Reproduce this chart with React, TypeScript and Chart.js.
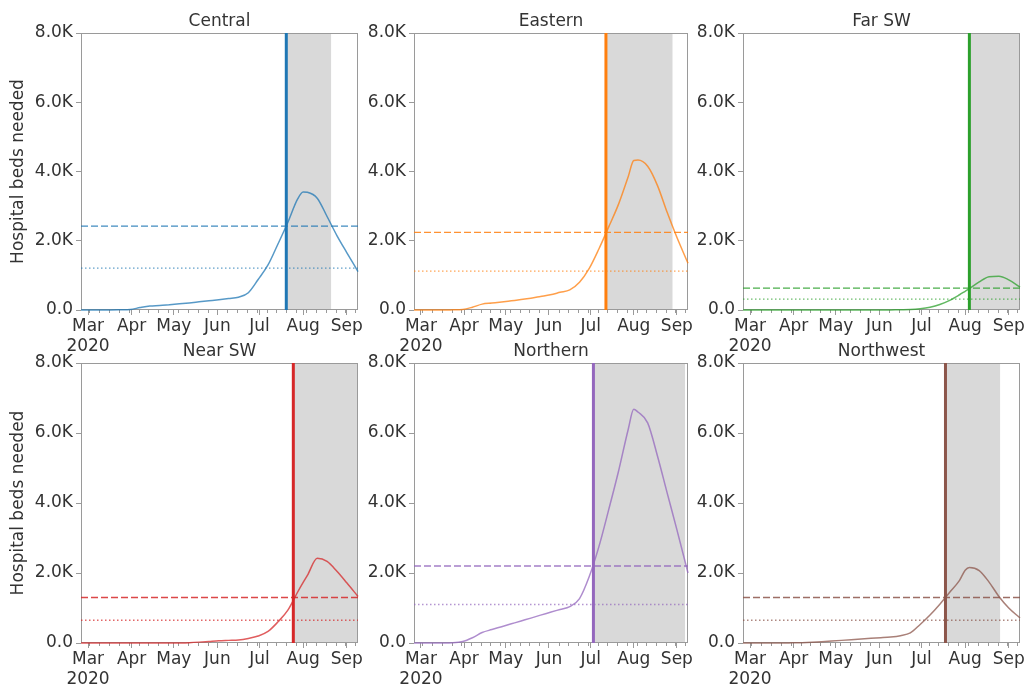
import React, { useEffect, useRef } from 'react';
import { Chart, registerables } from 'chart.js';

Chart.register(...registerables);

// ---------------- data ----------------
const regions = ['Central', 'Eastern', 'Far SW', 'Near SW', 'Northern', 'Northwest'];
const regionColors = ['#1f77b4', '#ff7f0e', '#2ca02c', '#d62728', '#9467bd', '#8c564b'];

// days counted from 1 Mar 2020
const dayOffsets = [-5, 2, 9, 16, 23, 30, 37, 44, 51, 58, 65, 72, 79, 86, 93, 100, 107, 114, 121, 128, 135, 142, 149, 153, 156, 163, 170, 177, 184, 192];

const centralBeds = [0, 0, 0, 0, 5, 15, 70, 115, 130, 155, 180, 205, 235, 265, 295, 330, 370, 500, 880, 1300, 1900, 2520, 3200, 3410, 3400, 3230, 2700, 2150, 1660, 1110];
const easternBeds = [0, 0, 0, 0, 5, 15, 80, 170, 200, 230, 265, 300, 340, 390, 440, 510, 580, 800, 1200, 1770, 2400, 3050, 3850, 4320, 4330, 4150, 3600, 2820, 2100, 1350];
const farSwBeds = [0, 0, 0, 0, 0, 0, 0, 0, 0, 0, 0, 0, 0, 0, 0, 3, 8, 12, 35, 80, 160, 280, 440, 540, 615, 810, 960, 975, 870, 660];
const nearSwBeds = [0, 0, 0, 0, 0, 0, 0, 0, 0, 0, 3, 10, 25, 45, 65, 75, 85, 130, 200, 330, 600, 930, 1450, 1730, 1930, 2420, 2330, 2050, 1720, 1330];
const northernBeds = [0, 0, 0, 0, 5, 40, 150, 300, 385, 466, 548, 630, 711, 796, 877, 959, 1041, 1270, 1900, 2760, 3810, 4900, 6100, 6680, 6600, 6290, 5350, 4290, 3240, 2000];
const northwestBeds = [0, 0, 0, 0, 0, 5, 10, 20, 35, 55, 75, 95, 115, 135, 150, 170, 210, 290, 530, 800, 1110, 1450, 1790, 2080, 2160, 2070, 1740, 1330, 1000, 715];

const bedSeries = [centralBeds, easternBeds, farSwBeds, nearSwBeds, northernBeds, northwestBeds];

const bedCapacity = [2420, 2240, 630, 1300, 2200, 1300];
const halfCapacity = [1210, 1120, 315, 650, 1100, 650];
const peakStart = [141, 133, 156, 146, 124, 139];
const peakEnd = [173, 181, 192, 192, 190, 178];

const monthTicks = [0, 31, 61, 92, 122, 153, 184];
const monthLabels = ['Mar', 'Apr', 'May', 'Jun', 'Jul', 'Aug', 'Sep'];
const yearLabel = '2020';
const yTicks = [0, 2000, 4000, 6000, 8000];
const yAxisTitle = 'Hospital beds needed';

// ---------------- layout ----------------
const colLeft = [81, 414, 743];
const colRight = [358, 688, 1020];
const rowTop = [33, 363];
const rowBottom = [310, 643];
const AXIS_W = 81;
const TOP_PAD = 33;
const X_AXIS_H = 50;
const RIGHT_PAD = 6;

const FONT = "'DejaVu Sans', 'Liberation Sans', sans-serif";
const TEXT = '#333333';
const SPINE = '#9a9a9a';
const SHADE = '#d9d9d9';

function hexA(hex: string, a: number) {
  const r = parseInt(hex.slice(1, 3), 16);
  const g = parseInt(hex.slice(3, 5), 16);
  const b = parseInt(hex.slice(5, 7), 16);
  return `rgba(${r},${g},${b},${a})`;
}

function fmtK(v: number) {
  return v === 0 ? '0.0' : (v / 1000).toFixed(1) + 'K';
}

function Panel({ index }: { index: number }) {
  const ref = useRef<HTMLCanvasElement>(null);
  const col = index % 3;
  const row = Math.floor(index / 3);
  const plotW = colRight[col] - colLeft[col];
  const plotH = rowBottom[row] - rowTop[row];
  const cw = AXIS_W + plotW + RIGHT_PAD + 10;
  const ch = TOP_PAD + plotH + X_AXIS_H;
  const cLeft = colLeft[col] - AXIS_W;
  const cTop = rowTop[row] - TOP_PAD;

  useEffect(() => {
    const canvas = ref.current;
    if (!canvas) return;
    const color = regionColors[index];
    const vals = bedSeries[index];
    const x0 = dayOffsets[0];
    const x1 = dayOffsets[dayOffsets.length - 1];
    const weeks: number[] = [];
    for (let d = 1; d <= x1; d += 7) if (!monthTicks.includes(d)) weeks.push(d);

    const SHADE_INDEX = 4;

    const decor = {
      id: 'decor',
      afterDatasetDraw(chart: any, args: any) {
        if (args.index !== SHADE_INDEX) return;
        const { ctx, chartArea, scales } = chart;
        const { left, right, top, bottom } = chartArea;
        ctx.save();
        ctx.strokeStyle = SPINE;
        ctx.lineWidth = 1;
        ctx.beginPath();
        weeks.forEach((w) => {
          const px = Math.round(scales.x.getPixelForValue(w)) + 0.5;
          ctx.moveTo(px, bottom);
          ctx.lineTo(px, bottom + 3);
        });
        ctx.stroke();
        ctx.strokeRect(Math.round(left) + 0.5, Math.round(top) + 0.5, Math.round(right - left) - 1, Math.round(bottom - top) - 1);
        ctx.restore();
      },
      afterDraw(chart: any) {
        const { ctx, chartArea } = chart;
        const { left, right, top, bottom } = chartArea;
        ctx.save();
        ctx.fillStyle = TEXT;
        ctx.font = `17px ${FONT}`;
        ctx.textAlign = 'center';
        ctx.textBaseline = 'alphabetic';
        ctx.fillText(regions[index], (left + right) / 2, top - 7);
        if (col === 0) {
          ctx.translate(19, (top + bottom) / 2);
          ctx.rotate(-Math.PI / 2);
          ctx.textBaseline = 'middle';
          ctx.fillText(yAxisTitle, 0, 0);
        }
        ctx.restore();
      },
    };

    const chart = new Chart(canvas, {
      type: 'line',
      data: {
        datasets: [
          {
            data: [
              { x: peakStart[index], y: 0 },
              { x: peakStart[index], y: 8000 },
            ],
            borderColor: color,
            borderWidth: 3,
            pointRadius: 0,
            order: 0,
          },
          {
            data: dayOffsets.map((d, i) => ({ x: d, y: vals[i] })),
            borderColor: hexA(color, 0.75),
            borderWidth: 1.5,
            pointRadius: 0,
            cubicInterpolationMode: 'monotone',
            clip: 4,
            order: 1,
          },
          {
            data: [
              { x: x0, y: bedCapacity[index] },
              { x: x1, y: bedCapacity[index] },
            ],
            borderColor: hexA(color, 0.85),
            borderWidth: 1.3,
            borderDash: [7, 3],
            pointRadius: 0,
            order: 2,
          },
          {
            data: [
              { x: x0, y: halfCapacity[index] },
              { x: x1, y: halfCapacity[index] },
            ],
            borderColor: hexA(color, 0.7),
            borderWidth: 1.3,
            borderDash: [1.5, 2.5],
            pointRadius: 0,
            order: 3,
          },
          {
            data: [
              { x: peakStart[index], y: 8000 },
              { x: peakEnd[index], y: 8000 },
            ],
            borderWidth: 0,
            borderColor: 'rgba(0,0,0,0)',
            backgroundColor: SHADE,
            fill: 'origin',
            pointRadius: 0,
            order: 10,
          },
        ],
      },
      options: {
        animation: false,
        responsive: false,
        events: [],
        layout: { padding: { top: TOP_PAD, right: RIGHT_PAD + 10, left: 0, bottom: 0 } },
        plugins: { legend: { display: false }, tooltip: { enabled: false }, title: { display: false } },
        scales: {
          x: {
            type: 'linear',
            min: x0,
            max: x1,
            afterFit: (s: any) => {
              s.height = X_AXIS_H;
            },
            afterBuildTicks: (s: any) => {
              s.ticks = monthTicks.map((v) => ({ value: v }));
            },
            border: { display: false },
            grid: { display: true, drawOnChartArea: false, drawTicks: true, tickLength: 5, color: SPINE },
            ticks: {
              autoSkip: false,
              maxRotation: 0,
              minRotation: 0,
              padding: 1,
              color: TEXT,
              font: { family: FONT, size: 17, lineHeight: 1.2 },
              callback: (v: any) => {
                const i = monthTicks.indexOf(Number(v));
                if (i < 0) return '';
                return i === 0 ? [monthLabels[0], yearLabel] : monthLabels[i];
              },
            },
          },
          y: {
            type: 'linear',
            min: 0,
            max: 8000,
            afterFit: (s: any) => {
              s.width = AXIS_W;
            },
            afterBuildTicks: (s: any) => {
              s.ticks = yTicks.map((v) => ({ value: v }));
            },
            border: { display: false },
            grid: { display: true, drawOnChartArea: false, drawTicks: true, tickLength: 5, color: SPINE },
            ticks: {
              padding: 3,
              color: TEXT,
              font: { family: FONT, size: 17 },
              callback: (v: any) => fmtK(Number(v)),
            },
          },
        },
      },
      plugins: [decor],
    } as any);
    return () => chart.destroy();
  }, [index]);

  return (
    <canvas
      ref={ref}
      width={cw}
      height={ch}
      style={{ position: 'absolute', left: cLeft, top: cTop, width: cw, height: ch }}
    />
  );
}

export default function App() {
  return (
    <div
      style={{
        position: 'fixed',
        left: 0,
        top: 0,
        width: 1027,
        height: 691,
        background: '#ffffff',
        overflow: 'hidden',
      }}
    >
      {regions.map((r, i) => (
        <Panel key={r} index={i} />
      ))}
    </div>
  );
}
